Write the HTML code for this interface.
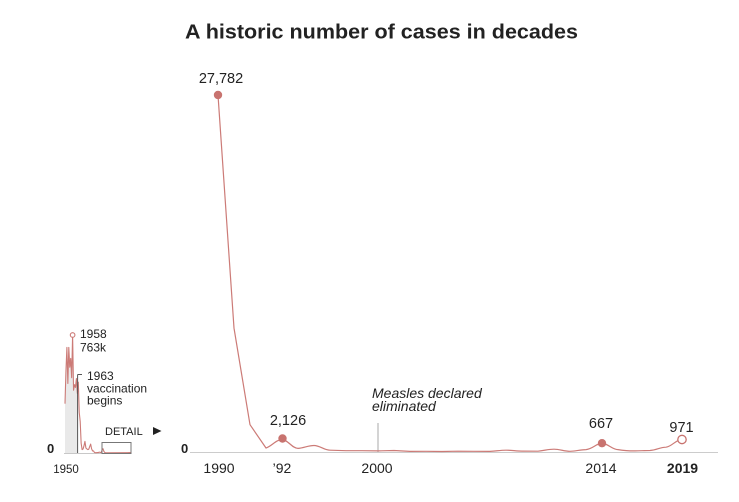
<!DOCTYPE html>
<html>
<head>
<meta charset="utf-8">
<style>
  html,body{margin:0;padding:0;background:#fff;}
  svg{display:block;}
  text{font-family:"Liberation Sans",Arial,sans-serif;fill:#222;}
</style>
</head>
<body>
<svg width="739" height="502" viewBox="0 0 739 502" xmlns="http://www.w3.org/2000/svg">
  <!-- Title -->
  <text x="381.5" y="38.5" text-anchor="middle" font-size="20" font-weight="bold" textLength="393" lengthAdjust="spacingAndGlyphs" fill="#222">A historic number of cases in decades</text>

  <!-- ===== Small overview chart ===== -->
  <!-- gray area 1950-1963 -->
  <path d="M65,453 L65,403.7 L65.95,371 L66.9,347.4 L67.85,383.5 L68.8,347.4 L69.75,367.2 L70.7,358.4 L71.65,377.7 L72.6,335 L73.55,390.2 L74.5,384.7 L75.45,387.4 L76.4,378.5 L77.35,393.4 L77.35,453 Z" fill="#e9e9e9" stroke="none"/>
  <!-- baseline -->
  <line x1="64" y1="453.5" x2="131" y2="453.5" stroke="#c8c8c8" stroke-width="1"/>
  <!-- series -->
  <path d="M65,403.7 L65.95,371 L66.9,347.4 L67.85,383.5 L68.8,347.4 L69.75,367.2 L70.7,358.4 L71.65,377.7 L72.6,335 L73.55,390.2 L74.5,384.7 L75.45,387.4 L76.4,378.5 L77.35,393.4 L78.3,382.2 L79.25,412.5 L80.2,421.4 L81.15,443.3 L82.1,449.6 L83.05,449 L84,445.7 L84.95,441.4 L85.9,448 L86.85,448.9 L87.8,449.6 L88.75,449.2 L89.7,446.6 L90.65,444.1 L91.6,448.8 L92.55,450.9 L93.5,450.9 L94.45,452.5 L95.4,452.7 L96.35,452.7 L97.3,452.6 L98.25,452.6 L99.2,452.1 L100.15,452.4 L101.1,452.5 L102.05,450.2 L103,448.7 L103.95,451.5 L104.9,452.6 L106,452.8 L130.5,452.6" fill="none" stroke="#cc7b77" stroke-width="1.1" stroke-linejoin="round"/>
  <!-- 1958 peak circle -->
  <circle cx="72.6" cy="335" r="2.3" fill="#fff" stroke="#cc7b77" stroke-width="1.1"/>
  <text x="80" y="338" font-size="12">1958</text>
  <text x="80" y="351.5" font-size="12">763k</text>
  <!-- 1963 marker -->
  <line x1="77.6" y1="374.5" x2="77.6" y2="453" stroke="#555" stroke-width="1"/>
  <line x1="77.6" y1="374.5" x2="82" y2="374.5" stroke="#555" stroke-width="1"/>
  <text x="87" y="380" font-size="12">1963</text>
  <text x="87" y="392.5" font-size="12">vaccination</text>
  <text x="87" y="404.5" font-size="12">begins</text>
  <!-- DETAIL box -->
  <rect x="102" y="442.5" width="29" height="11" fill="none" stroke="#777" stroke-width="1"/>
  <text x="105" y="435" font-size="11">DETAIL</text>
  <polygon points="153,427 161.5,431 153,435" fill="#222"/>
  <!-- labels -->
  <text x="47" y="453" font-size="13" font-weight="bold">0</text>
  <text x="66" y="473" font-size="11.5" text-anchor="middle">1950</text>

  <!-- ===== Main detail chart ===== -->
  <line x1="190" y1="452.5" x2="718" y2="452.5" stroke="#cccccc" stroke-width="1"/>
  <text x="181" y="453" font-size="13" font-weight="bold">0</text>

  <!-- Measles eliminated annotation -->
  <line x1="378" y1="423" x2="378" y2="452" stroke="#aaa" stroke-width="1"/>
  <text x="372" y="398" font-size="14" font-style="italic">Measles declared</text>
  <text x="372" y="411" font-size="14" font-style="italic">eliminated</text>

  <!-- series -->
  <path d="M218,95 L234,328.1 L250,424.7 L266,448 C272,446 276,439.6 282,439.6 C288,439.6 292,448.4 298,448.4 C304,448 308,445.5 314,445.5 C320,445.5 324,450.2 330,450.2 L346,450.7 L362,450.7 L378,450.9 L394,450.5 L410,451.4 L426,451.3 L442,451.5 L458,451.2 L474,451.3 L490,451.4 C497,451 500,450.2 506,450.2 C512,450.2 516,451.1 522,451.1 L538,451.2 C545,450.5 548,449.2 554,449.2 C560,449.2 564,451.3 570,451.3 C576,451.3 580,449.6 586,449.6 C593,449 596,443.4 602,443.4 C608,443.4 612,449.6 618,449.6 C624,450.5 628,450.9 634,450.9 C640,450.9 644,450.5 650,450.5 C657,450 660,447.2 666,447.2 C672,446.5 676,439.5 682,439.5" fill="none" stroke="#cc7b77" stroke-width="1.2" stroke-linejoin="round"/>

  <!-- dots -->
  <circle cx="218" cy="95" r="4.2" fill="#c8736f"/>
  <circle cx="282.5" cy="438.5" r="4.2" fill="#c8736f"/>
  <circle cx="602" cy="443.2" r="4.2" fill="#c8736f"/>
  <circle cx="682" cy="439.5" r="4.2" fill="#fff" stroke="#c8736f" stroke-width="1.3"/>

  <!-- value labels -->
  <text x="221" y="83" font-size="14.5" text-anchor="middle">27,782</text>
  <text x="288" y="425" font-size="14.5" text-anchor="middle">2,126</text>
  <text x="601" y="428" font-size="14.5" text-anchor="middle">667</text>
  <text x="681.5" y="432" font-size="14.5" text-anchor="middle">971</text>

  <!-- x tick labels -->
  <text x="219" y="473" font-size="14" text-anchor="middle">1990</text>
  <text x="282" y="473" font-size="14" text-anchor="middle">’92</text>
  <text x="377" y="473" font-size="14" text-anchor="middle">2000</text>
  <text x="601" y="473" font-size="14" text-anchor="middle">2014</text>
  <text x="682.5" y="473" font-size="14" font-weight="bold" text-anchor="middle">2019</text>
</svg>
</body>
</html>
